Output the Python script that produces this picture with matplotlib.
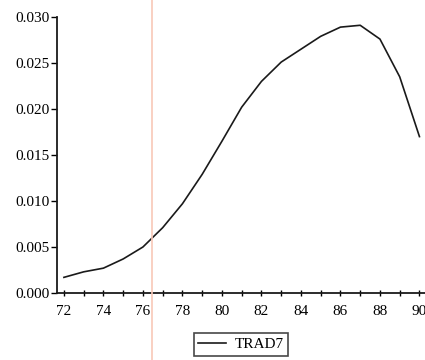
import numpy as np
import matplotlib.pyplot as plt
from matplotlib.lines import Line2D
from matplotlib.ticker import MultipleLocator, FormatStrFormatter

# values
years = [72, 73, 74, 75, 76, 77, 78, 79, 80, 81,
         82, 83, 84, 85, 86, 87, 88, 89, 90]
trad7 = [0.0017, 0.0023, 0.0027, 0.0037, 0.0050, 0.0071, 0.0097, 0.0129, 0.0165, 0.0202,
         0.0230, 0.0251, 0.0265, 0.0279, 0.0289, 0.0291, 0.0276, 0.0235, 0.0170]
x_ticks = [72, 74, 76, 78, 80, 82, 84, 86, 88, 90]

plt.rcParams['font.family'] = ['Liberation Serif', 'DejaVu Serif']

fig = plt.figure(figsize=(4.25, 3.6), dpi=100)
ax = fig.add_axes([57/425, 67/360, 383/425, 276/360])

ax.plot(years, trad7, color='#1a1a1a', lw=1.2, label='TRAD7')

ax.set_xlim(71.65, 91.04)
ax.set_ylim(0, 0.030)
ax.set_xticks(x_ticks)
ax.xaxis.set_minor_locator(MultipleLocator(1))
ax.yaxis.set_major_locator(MultipleLocator(0.005))
ax.yaxis.set_major_formatter(FormatStrFormatter('%.3f'))

for s in ['top', 'right']:
    ax.spines[s].set_visible(False)
for s in ['left', 'bottom']:
    ax.spines[s].set_linewidth(1.3)
    ax.spines[s].set_color('#1a1a1a')

ax.tick_params(axis='y', direction='out', length=4, width=1, labelsize=11, pad=1)
ax.tick_params(axis='x', which='both', direction='inout', length=5, width=1,
               labelsize=11, pad=6)

leg = ax.legend(loc='upper center', bbox_to_anchor=(241/425, 27/360),
                bbox_transform=fig.transFigure, frameon=True, fancybox=False,
                edgecolor='#1a1a1a', fontsize=11, handlelength=1.8,
                borderpad=0.3, handletextpad=0.6, borderaxespad=0)
leg.get_frame().set_linewidth(1.2)

# faint pink fold line from the scan
fig.add_artist(Line2D([152/425, 152/425], [0, 1], color='#f8c8b8', lw=1.2))

fig.savefig('out.png', dpi=100)
